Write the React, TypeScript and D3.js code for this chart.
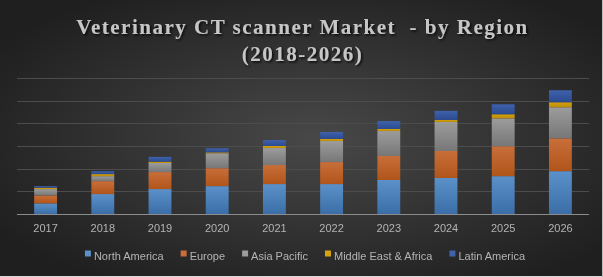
import * as d3 from "d3";
import { useEffect, useRef } from "react";

const years = ["2017", "2018", "2019", "2020", "2021", "2022", "2023", "2024", "2025", "2026"];
const regions = ["North America", "Europe", "Asia Pacific", "Middle East & Africa", "Latin America"];

const northAmerica = [47, 88, 110, 123, 132, 132, 150, 159, 167, 189];
const europe = [35, 57, 75, 79, 84, 97, 106, 119, 132, 145];
const asiaPacific = [28, 22, 40, 66, 75, 93, 110, 128, 123, 137];
const middleEastAfrica = [6, 9, 6, 4, 9, 9, 9, 9, 18, 22];
const latinAmerica = [7, 13, 21, 18, 26, 31, 35, 40, 44, 53];

const yTicks = [0, 100, 200, 300, 400, 500, 600];

// top / bottom of each segment's vertical gradient
const colors = [
  ["#5b90c8", "#3b6ea6"],
  ["#c86e3a", "#b0551a"],
  ["#9c9c9c", "#777777"],
  ["#d6a30e", "#b98a08"],
  ["#3e62ac", "#2b4a90"],
];

const W = 603;
const H = 277;
const margin = { top: 78, right: 14, bottom: 63, left: 17 };

export default function App() {
  const ref = useRef<SVGSVGElement>(null);

  useEffect(() => {
    const svg = d3.select(ref.current);
    svg.selectAll("*").remove();

    const table = years.map((year, i) => ({
      year,
      "North America": northAmerica[i],
      Europe: europe[i],
      "Asia Pacific": asiaPacific[i],
      "Middle East & Africa": middleEastAfrica[i],
      "Latin America": latinAmerica[i],
    }));
    const series = d3.stack<any>().keys(regions)(table);

    const x = d3
      .scaleBand()
      .domain(years)
      .range([margin.left, W - margin.right])
      .paddingInner(0.6)
      .paddingOuter(0.3);
    const y = d3
      .scaleLinear()
      .domain([0, 600])
      .range([H - margin.bottom, margin.top]);

    const defs = svg.append("defs");
    const bg = defs
      .append("radialGradient")
      .attr("id", "bg")
      .attr("cx", "52%")
      .attr("cy", "50%")
      .attr("r", "62%");
    bg.append("stop").attr("offset", "0%").attr("stop-color", "#484848");
    bg.append("stop").attr("offset", "100%").attr("stop-color", "#1f1f1f");

    colors.forEach(([top, bottom], i) => {
      const g = defs
        .append("linearGradient")
        .attr("id", `seg${i}`)
        .attr("x1", 0)
        .attr("y1", 0)
        .attr("x2", 0)
        .attr("y2", 1);
      g.append("stop").attr("offset", "0%").attr("stop-color", top);
      g.append("stop").attr("offset", "100%").attr("stop-color", bottom);
    });

    const textShadow = defs.append("filter").attr("id", "tshadow");
    textShadow
      .append("feDropShadow")
      .attr("dx", 1.5)
      .attr("dy", 1.5)
      .attr("stdDeviation", 1)
      .attr("flood-color", "#000")
      .attr("flood-opacity", 0.8);

    svg.append("rect").attr("width", W).attr("height", H).attr("fill", "url(#bg)");
    // thin light frame along the bottom and right edge
    svg.append("line").attr("x1", 0).attr("x2", W).attr("y1", H - 0.5).attr("y2", H - 0.5).attr("stroke", "#d8d8d8");
    svg.append("line").attr("x1", W - 0.5).attr("x2", W - 0.5).attr("y1", 0).attr("y2", H).attr("stroke", "#bdbdbd");

    // title
    const title = svg
      .append("text")
      .attr("text-anchor", "middle")
      .attr("font-family", "'Liberation Serif', 'Times New Roman', serif")
      .attr("font-weight", "bold")
      .attr("font-size", 21)
      .attr("letter-spacing", 1.5)
      .attr("fill", "#c6c6c6")
      .attr("filter", "url(#tshadow)")
      .attr("xml:space", "preserve");
    title.append("tspan").attr("x", W / 2 + 1).attr("y", 34).text("Veterinary CT scanner Market  - by Region");
    title.append("tspan").attr("x", W / 2 + 1).attr("y", 61).text("(2018-2026)");

    // gridlines
    svg
      .append("g")
      .selectAll("line")
      .data(yTicks.slice(1))
      .join("line")
      .attr("x1", margin.left)
      .attr("x2", W - margin.right)
      .attr("y1", (d) => Math.round(y(d)) + 0.5)
      .attr("y2", (d) => Math.round(y(d)) + 0.5)
      .attr("stroke", "#4c4c4c")
      .attr("stroke-width", 1);

    // stacked bars
    svg
      .append("g")
      .selectAll("g")
      .data(series)
      .join("g")
      .attr("fill", (_, i) => `url(#seg${i})`)
      .selectAll("rect")
      .data((d) => d)
      .join("rect")
      .attr("x", (d: any) => x(d.data.year)!)
      .attr("width", x.bandwidth())
      .attr("y", (d) => y(d[1]))
      .attr("height", (d) => y(d[0]) - y(d[1]));

    // axis baseline
    svg
      .append("line")
      .attr("x1", margin.left)
      .attr("x2", W - margin.right)
      .attr("y1", y(0) + 0.5)
      .attr("y2", y(0) + 0.5)
      .attr("stroke", "#8c8c8c");

    const axis = svg
      .append("g")
      .attr("transform", `translate(0,${y(0)})`)
      .call(d3.axisBottom(x).tickSize(0).tickPadding(10));
    axis.select(".domain").remove();
    axis
      .selectAll("text")
      .attr("font-family", "'Liberation Sans', Arial, sans-serif")
      .attr("font-size", 11)
      .attr("fill", "#b4b4b4");

    // legend, centred under the plot
    const legend = svg.append("g");
    const items = legend
      .selectAll("g")
      .data(regions)
      .join("g");
    items
      .append("rect")
      .attr("y", -5.5)
      .attr("width", 6)
      .attr("height", 6)
      .attr("fill", (_, i) => colors[i][0]);
    items
      .append("text")
      .attr("x", 9)
      .attr("y", 0)
      .attr("dy", "0.32em")
      .attr("font-family", "'Liberation Sans', Arial, sans-serif")
      .attr("font-size", 11)
      .attr("fill", "#b4b4b4")
      .text((d) => d);
    let offset = 0;
    items.each(function () {
      const g = d3.select(this);
      g.attr("transform", `translate(${offset},0)`);
      const w = (g.select("text").node() as SVGTextElement).getComputedTextLength();
      offset += 9 + w + 17;
    });
    const total = offset - 17;
    legend.attr("transform", `translate(${305 - total / 2},${256})`);
  }, []);

  return (
    <svg
      ref={ref}
      width={W}
      height={H}
      style={{ position: "fixed", top: 0, left: 0, display: "block" }}
    />
  );
}
